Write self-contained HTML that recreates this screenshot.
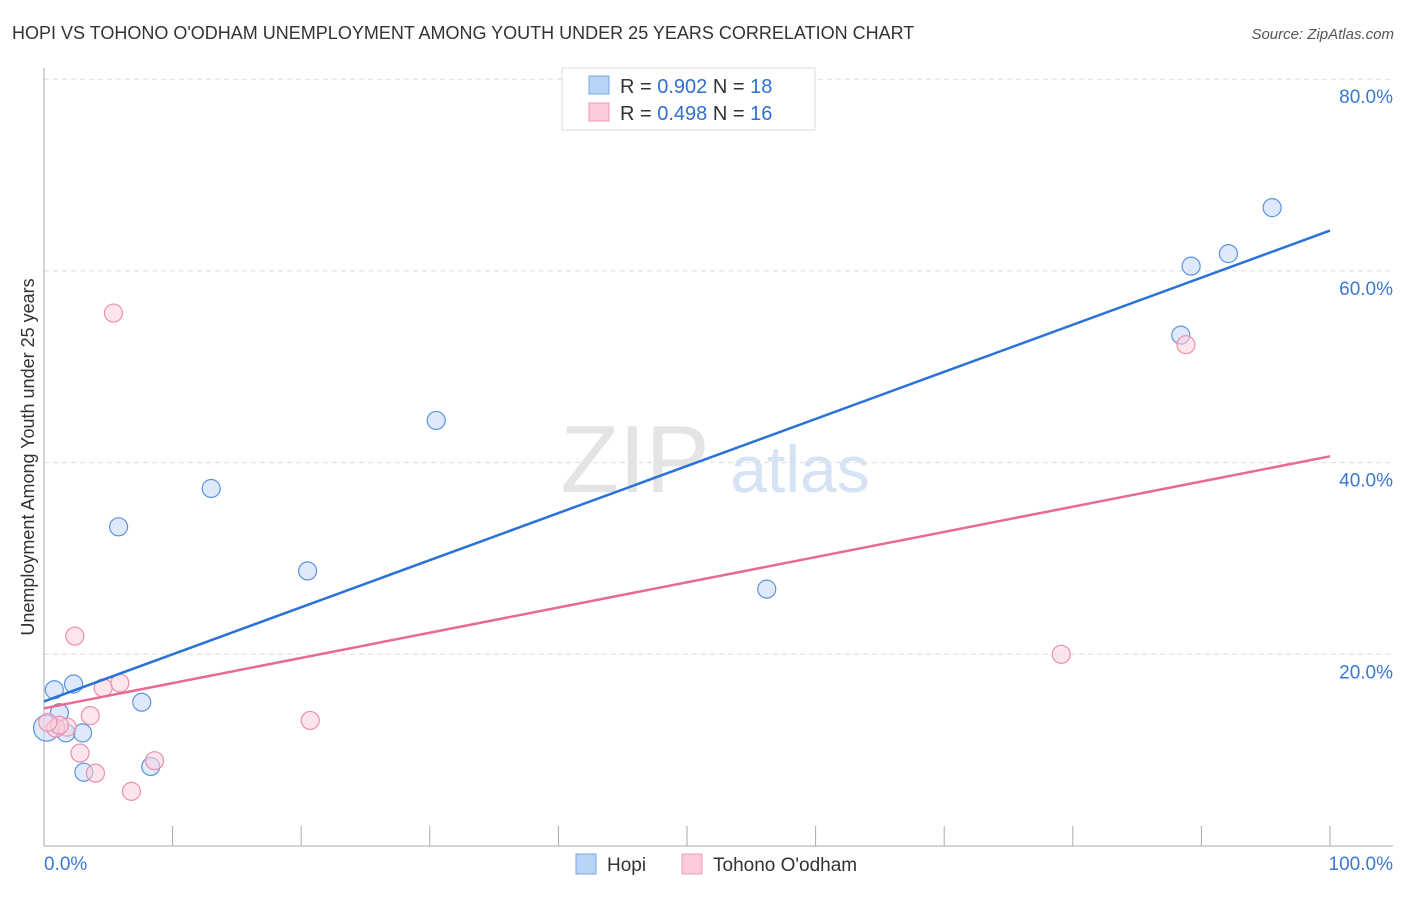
<!DOCTYPE html>
<html><head><meta charset="utf-8"><style>
body{margin:0;background:#fff;font-family:"Liberation Sans",sans-serif}
svg text{font-family:"Liberation Sans",sans-serif}
</style></head><body>
<svg id="c" width="1406" height="892" xmlns="http://www.w3.org/2000/svg">
<text x="12" y="39" font-size="18" fill="#333">HOPI VS TOHONO O'ODHAM UNEMPLOYMENT AMONG YOUTH UNDER 25 YEARS CORRELATION CHART</text>
<text x="1394" y="39" font-size="15" fill="#555" font-style="italic" text-anchor="end">Source: ZipAtlas.com</text>
<text x="635" y="492" font-size="96" fill="#e4e4e4" font-family="Liberation Serif" text-anchor="middle">ZIP</text>
<text x="800" y="492" font-size="66" fill="#d6e3f5" text-anchor="middle">atlas</text>
<text transform="translate(34,457) rotate(-90)" font-size="18" fill="#333" text-anchor="middle">Unemployment Among Youth under 25 years</text>
<g id="grid"></g><g id="pts"></g><g id="lines"></g>
<g>
<rect x="562" y="68" width="253" height="62" fill="#fff" stroke="#ddd"/>
<rect x="589" y="76" width="20" height="18" fill="#b8d4f7" stroke="#7aa8e6"/>
<text x="620" y="93" font-size="20" fill="#333">R = <tspan fill="#2f6fd1">0.902</tspan>   N = <tspan fill="#2f6fd1">18</tspan></text>
<rect x="589" y="103" width="20" height="18" fill="#fbcbd9" stroke="#ee9ab5"/>
<text x="620" y="120" font-size="20" fill="#333">R = <tspan fill="#2f6fd1">0.498</tspan>   N = <tspan fill="#2f6fd1">16</tspan></text>
</g>
<g>
<rect x="576" y="854" width="20" height="20" fill="#b8d4f7" stroke="#7aa8e6"/>
<text x="607" y="871" font-size="19" fill="#333">Hopi</text>
<rect x="682" y="854" width="20" height="20" fill="#fbcbd9" stroke="#ee9ab5"/>
<text x="713" y="871" font-size="19" fill="#333">Tohono O'odham</text>
</g>
</svg>
<script>
const hopiX=[0.8,2.3,1.2,1.7,3.0,3.1,7.6,8.3,5.8,13.0,20.5,30.5,56.2,88.4,89.2,92.1,95.5,0.2];
const hopiY=[16.3,16.9,13.9,11.8,11.8,7.7,15.0,8.3,33.3,37.3,28.7,44.4,26.8,53.3,60.5,61.8,66.6,12.3];
const tohX=[5.4,2.4,4.6,5.9,3.6,1.8,0.9,2.8,4.0,6.8,8.6,20.7,79.1,88.8,1.2,0.3];
const tohY=[55.6,21.9,16.5,17.0,13.6,12.4,12.3,9.7,7.6,5.7,8.9,13.1,20.0,52.3,12.6,12.9];
const yTicks=[20,40,60,80];
const xTickLabels=["0.0%","100.0%"];
const NS="http://www.w3.org/2000/svg";
const sx=v=>44+v*12.86, sy=v=>846-v*9.585;
function mk(p,t,a){const e=document.createElementNS(NS,t);for(const k in a)e.setAttribute(k,a[k]);p.appendChild(e);return e;}
const svg=document.getElementById('c'),grid=document.getElementById('grid'),pts=document.getElementById('pts'),lines=document.getElementById('lines');
yTicks.forEach(t=>{
 const l=mk(grid,'line',{x1:44,x2:1393,y1:sy(t),y2:sy(t),stroke:'#ddd','stroke-dasharray':'5,4'});
 
 
 const tx=mk(grid,'text',{x:1393,y:sy(t)+24,'font-size':19,fill:'#3a78d6','text-anchor':'end'});
 tx.textContent=t.toFixed(1)+'%';
 
 
});
const ax=mk(grid,'line',{x1:44,x2:44,y1:68,y2:846,stroke:'#aaa'});


const bx=mk(grid,'line',{x1:44,x2:1393,y1:846,y2:846,stroke:'#aaa'});


for(let i=0;i<=10;i++){const t=mk(grid,'line',{x1:sx(i*10),x2:sx(i*10),y1:826,y2:846,stroke:'#aaa'});
 
 }
[[0,'start',44],[100,'end',1393]].forEach((d,i)=>{const t=mk(grid,'text',{x:d[2],y:870,'font-size':19,fill:'#3a78d6','text-anchor':d[1]});
 t.textContent=xTickLabels[i];
 
 });
function dots(X,Y,f,s,n){X.forEach((x,i)=>{const c=mk(pts,'circle',{cx:sx(x),cy:sy(Y[i]),r:i==X.length-1&&n=='hopi'?13:9,fill:f,'fill-opacity':0.55,stroke:s,'stroke-width':1.2});
 
 });}
dots(hopiX,hopiY,'#c2d9f7','#5b93e0','hopi');
dots(tohX,tohY,'#fbd0dd','#ec8fae','tohono');
function fit(X,Y,col,n){const m=X.length,mx=X.reduce((a,b)=>a+b)/m,my=Y.reduce((a,b)=>a+b)/m;let sxy=0,sxx=0;X.forEach((x,i)=>{sxy+=(x-mx)*(Y[i]-my);sxx+=(x-mx)**2});const b=sxy/sxx,a=my-b*mx;
 const l=mk(lines,'line',{x1:sx(0),y1:sy(a),x2:sx(100),y2:sy(a+100*b),stroke:col,'stroke-width':2.5});
 
 }
fit(hopiX,hopiY,'#2a72d8','hopi');
fit(tohX,tohY,'#e86a94','tohono');
</script>
</body></html>
